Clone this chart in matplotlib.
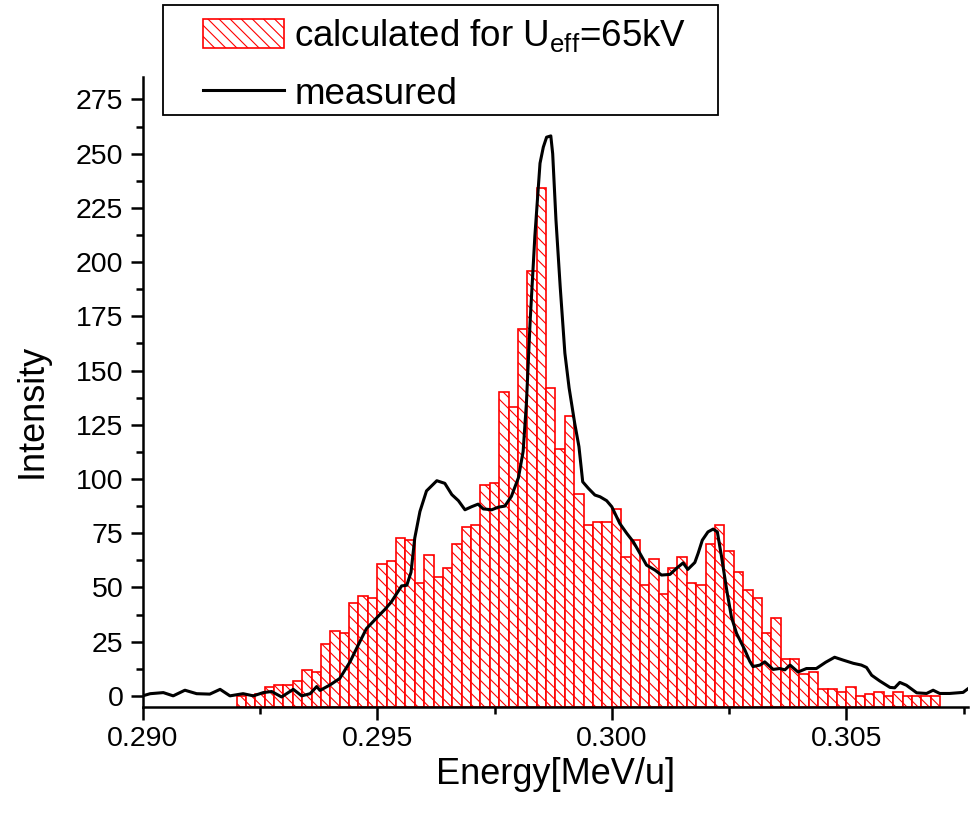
import matplotlib
matplotlib.use("Agg")
import matplotlib.pyplot as plt
from matplotlib.ticker import MultipleLocator, FormatStrFormatter
from matplotlib.patches import Rectangle
import numpy as np

plt.rcParams['font.family'] = ['Liberation Sans', 'DejaVu Sans']
plt.rcParams['mathtext.fontset'] = 'custom'
plt.rcParams['mathtext.rm'] = 'Liberation Sans'
plt.rcParams['mathtext.it'] = 'Liberation Sans'
plt.rcParams['hatch.linewidth'] = 0.8

# ---- data ----
bin_start = 0.292
bin_width = 0.0002
calculated = [0, 0.5, 1, 4, 5, 5, 7, 12, 11, 24,
              30, 29, 43, 46, 45, 61, 62, 73, 72, 52,
              65, 55, 59, 70, 78, 79, 97, 98, 140, 133,
              169, 196, 234, 142, 114, 129, 93, 79, 80, 80,
              86, 64, 72, 51, 63, 47, 59, 64, 52, 51,
              70, 79, 67, 57, 49, 45, 29, 36, 17, 17,
              10, 11, 3, 3, 2, 4, 0, 1, 2, 0,
              2, 0, 0, 0, 0]

measured_energy = [0.2900, 0.29016, 0.29044, 0.29065, 0.2909, 0.29115, 0.29143, 0.29165, 0.29186, 0.29214,
                   0.29236, 0.29257, 0.29275, 0.29296, 0.29321, 0.29339, 0.29357, 0.29371, 0.29378, 0.29399,
                   0.2942, 0.29442, 0.29463, 0.29477, 0.29499, 0.29517, 0.2953, 0.29552, 0.29563, 0.29572,
                   0.2958, 0.29591, 0.29605, 0.29627, 0.29644, 0.29659, 0.29673, 0.29687, 0.29701, 0.29715,
                   0.29726, 0.29744, 0.29758, 0.29772, 0.29786, 0.29801, 0.29811, 0.29818, 0.29826, 0.29836,
                   0.29847, 0.29854, 0.29861, 0.2987, 0.29874, 0.29881, 0.2989, 0.299, 0.29909, 0.29921,
                   0.2993, 0.29938, 0.2995, 0.29964, 0.29975, 0.29989, 0.3000, 0.30017, 0.30032, 0.30046,
                   0.3006, 0.30074, 0.30092, 0.30106, 0.30124, 0.30138, 0.30152, 0.30162, 0.30177, 0.30184,
                   0.30193, 0.30205, 0.30216, 0.30225, 0.30234, 0.30245, 0.30255, 0.30266, 0.30284, 0.30294,
                   0.30301, 0.30316, 0.30326, 0.30344, 0.30358, 0.30369, 0.3038, 0.30397, 0.30415, 0.30436,
                   0.30456, 0.30475, 0.30493, 0.30515, 0.30532, 0.30543, 0.30554, 0.30571, 0.30593, 0.30603,
                   0.30614, 0.30628, 0.3065, 0.30671, 0.30685, 0.30699, 0.3072, 0.30749, 0.3076]
measured_intensity = [0, 1, 1.5, 0, 2.6, 1, 0.8, 3, 0, 1,
                      0, 1.5, 2, -0.5, 3, 0, 1, 4.3, 2.5, 5,
                      8, 15.7, 25, 31, 36, 40, 43.3, 50.7, 51, 57,
                      72.8, 85, 94.5, 99.2, 98, 92.8, 90, 85.8, 87.2, 88.4,
                      86.2, 85.8, 87, 87.5, 92, 100.6, 112.7, 135, 173, 212,
                      245.6, 253, 257.6, 258.2, 250, 219.4, 188.7, 158, 142, 125.6,
                      114.9, 98.7, 95.7, 92.6, 91.8, 90, 87.2, 79.5, 74.9, 71,
                      65.7, 60.3, 58, 55.7, 56, 58.8, 61.3, 58.3, 61.5, 65.7,
                      71.8, 75.6, 76.9, 75.6, 64.1, 48.8, 36.4, 28.8, 21, 16,
                      13.5, 14.2, 15.7, 12.2, 12.6, 12, 14.2, 11, 12.6, 12.6,
                      15.5, 17.8, 16.5, 15, 14.2, 13.1, 9.5, 6.9, 3.9, 3.7,
                      6.2, 4.9, 1.4, 1.1, 2.6, 1.1, 1.1, 1.6, 3.4]

label_calc = r'calculated for U$_{\mathregular{eff}}$=65kV'
label_meas = 'measured'
x_label = 'Energy[MeV/u]'
y_label = 'Intensity'

# ---- figure ----
W, H = 971, 816
fig = plt.figure(figsize=(W / 100, H / 100), dpi=100)
ax = fig.add_axes([0.14696, 0.13395, 0.85026, 0.77206])

ymin, ymax = -5, 285.5
edges = bin_start + bin_width * np.arange(len(calculated))
vals = np.array(calculated, dtype=float)
bars = ax.bar(edges, vals - ymin, bottom=ymin, width=bin_width, align='edge',
              facecolor='white', edgecolor='#ff0000', linewidth=1.2,
              hatch='\\\\\\', label=label_calc, zorder=2)
line, = ax.plot(measured_energy, measured_intensity, color='black', lw=2.2,
                label=label_meas, zorder=3)

ax.set_xlim(0.290, 0.3076)
ax.set_ylim(ymin, ymax)

for s in ['top', 'right']:
    ax.spines[s].set_visible(False)
for s in ['left', 'bottom']:
    ax.spines[s].set_linewidth(1.8)

ax.xaxis.set_major_locator(MultipleLocator(0.005))
ax.xaxis.set_minor_locator(MultipleLocator(0.0025))
ax.xaxis.set_major_formatter(FormatStrFormatter('%.3f'))
ax.yaxis.set_major_locator(MultipleLocator(25))
ax.yaxis.set_minor_locator(MultipleLocator(12.5))
ax.tick_params(which='major', direction='out', length=9, width=1.8, labelsize=20.5, pad=5)
ax.tick_params(which='minor', direction='out', length=5, width=1.8)

ax.set_xlabel(x_label, fontsize=26)
ax.set_ylabel(y_label, fontsize=26)
ax.xaxis.set_label_coords(0.5, -0.08)
ax.yaxis.set_label_coords(-0.113, 0.47)

# legend frame (drawn separately so it can be wider than its content)
frame = Rectangle((163 / W, 1 - 115 / H), 555 / W, 110 / H, transform=fig.transFigure,
                  facecolor='white', edgecolor='black', linewidth=1.3, zorder=5)
fig.add_artist(frame)
leg = fig.legend(handles=[bars, line], labels=[label_calc, label_meas],
                 loc='upper left', bbox_to_anchor=(203 / W, 1 - 17 / H),
                 fontsize=26.5, frameon=False, borderpad=0,
                 handlelength=2.2, handleheight=0.85, handletextpad=0.28,
                 labelspacing=0.6, borderaxespad=0)
leg.set_zorder(6)

fig.savefig('out.png', dpi=100)
